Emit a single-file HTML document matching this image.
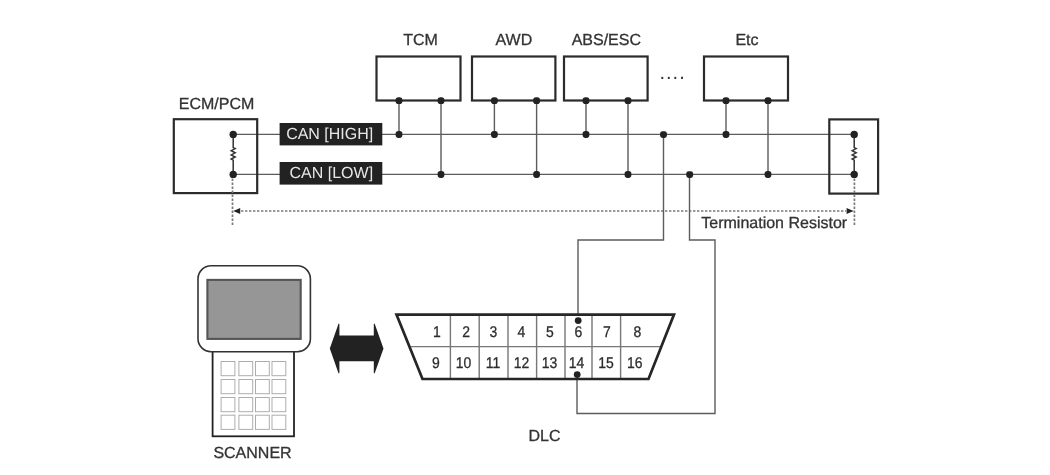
<!DOCTYPE html>
<html lang="en"><head><meta charset="utf-8"><title>CAN communication diagram</title>
<style>html,body{margin:0;padding:0;background:#fff;}body{width:1050px;height:475px;overflow:hidden;}svg{display:block;filter:blur(0.4px);}
text{font-family:"Liberation Sans", Arial, Helvetica, sans-serif;font-size:16px;fill:#333;text-anchor:middle;text-rendering:geometricPrecision;stroke:#333;stroke-width:0.3px;}
.box{fill:none;stroke:#2b2b2b;stroke-width:2.2;}.ln{fill:none;stroke:#5c5c5c;stroke-width:1.4;}.dot{fill:#222;}
.dash{fill:none;stroke:#7a7a7a;stroke-width:1.7;stroke-dasharray:2.4 1.6;}
.key{fill:#fff;stroke:#adadad;stroke-width:1;}
.num{font-size:15.5px;fill:#2b2b2b;}.wt{fill:#e6e6e6;stroke:none;}
</style></head><body>
<svg width="1050" height="475" viewBox="0 0 1050 475">
<rect x="0" y="0" width="1050" height="475" fill="#fff"/>
<path class="ln" d="M233 134.4 H854 M233 174.4 H854"/>
<path class="ln" d="M399 100.6 V134.4 M441 100.6 V174.4"/>
<rect class="box" x="376.5" y="56.5" width="84.0" height="44"/>
<rect class="dot" x="395.60" y="97.30" width="6.8" height="6.8" rx="2.8"/>
<rect class="dot" x="437.60" y="97.30" width="6.8" height="6.8" rx="2.8"/>
<rect class="dot" x="395.60" y="131.10" width="6.8" height="6.8" rx="2.8"/>
<rect class="dot" x="437.60" y="171.10" width="6.8" height="6.8" rx="2.8"/>
<text transform="translate(420.50 44.9) scale(1 1)">TCM</text>
<path class="ln" d="M494.4 100.6 V134.4 M536.6 100.6 V174.4"/>
<rect class="box" x="472" y="56.5" width="83.39999999999998" height="44"/>
<rect class="dot" x="491.00" y="97.30" width="6.8" height="6.8" rx="2.8"/>
<rect class="dot" x="533.20" y="97.30" width="6.8" height="6.8" rx="2.8"/>
<rect class="dot" x="491.00" y="131.10" width="6.8" height="6.8" rx="2.8"/>
<rect class="dot" x="533.20" y="171.10" width="6.8" height="6.8" rx="2.8"/>
<text transform="translate(513.90 44.9) scale(1 1)">AWD</text>
<path class="ln" d="M586 100.6 V134.4 M628 100.6 V174.4"/>
<rect class="box" x="564" y="56.5" width="83.60000000000002" height="44"/>
<rect class="dot" x="582.60" y="97.30" width="6.8" height="6.8" rx="2.8"/>
<rect class="dot" x="624.60" y="97.30" width="6.8" height="6.8" rx="2.8"/>
<rect class="dot" x="582.60" y="131.10" width="6.8" height="6.8" rx="2.8"/>
<rect class="dot" x="624.60" y="171.10" width="6.8" height="6.8" rx="2.8"/>
<text transform="translate(606.30 44.9) scale(1 1)">ABS/ESC</text>
<path class="ln" d="M726 100.6 V134.4 M768 100.6 V174.4"/>
<rect class="box" x="704" y="56.5" width="84" height="44"/>
<rect class="dot" x="722.60" y="97.30" width="6.8" height="6.8" rx="2.8"/>
<rect class="dot" x="764.60" y="97.30" width="6.8" height="6.8" rx="2.8"/>
<rect class="dot" x="722.60" y="131.10" width="6.8" height="6.8" rx="2.8"/>
<rect class="dot" x="764.60" y="171.10" width="6.8" height="6.8" rx="2.8"/>
<text transform="translate(747.00 44.9) scale(1 1)">Etc</text>
<text x="672.60" y="79.4" style="font-size:20px;letter-spacing:1px;stroke:none">....</text>
<rect class="box" x="173.8" y="119.2" width="83.4" height="73.9"/>
<text transform="translate(216.50 109.3) scale(1 1)">ECM/PCM</text>
<rect class="box" x="829.3" y="119.4" width="48.8" height="74.2"/>
<path class="ln" style="stroke:#333;stroke-width:1.5" d="M233.2 134.4 V147.6 l2 1 l-4 2.1 l4 2.1 l-4 2.1 l4 2.1 l-4 2.1 l2 1 V174.4"/>
<circle class="dot" cx="233.2" cy="134.4" r="3.7"/>
<circle class="dot" cx="233.2" cy="174.4" r="3.7"/>
<path class="ln" style="stroke:#333;stroke-width:1.5" d="M854.2 134.4 V147.6 l2 1 l-4 2.1 l4 2.1 l-4 2.1 l4 2.1 l-4 2.1 l2 1 V174.4"/>
<circle class="dot" cx="854.2" cy="134.4" r="3.7"/>
<circle class="dot" cx="854.2" cy="174.4" r="3.7"/>
<rect x="279.6" y="123" width="102.7" height="22.4" fill="#222"/>
<rect x="279.6" y="162" width="102.7" height="22.6" fill="#222"/>
<text transform="translate(329.70 139.0) scale(1 1)" class="wt">CAN [HIGH]</text>
<text transform="translate(331.30 178.0) scale(1 1)" class="wt">CAN [LOW]</text>
<path class="dash" d="M232.5 178.5 V226 M854.4 178.5 V226 M241 211 H846"/>
<path class="dot" d="M233.2 211 L240.2 207.9 V214.1 Z M853.6 211 L846.6 207.9 V214.1 Z"/>
<text transform="translate(774.20 228.3) scale(1 1)">Termination Resistor</text>
<path class="ln" d="M663.5 134.4 V240 H578 V320"/>
<path class="ln" d="M689.5 174.4 V240 H715 V413.5 H577 V375"/>
<rect class="dot" x="660.1" y="131.2" width="6.8" height="6.8" rx="2.4"/>
<rect class="dot" x="686.3" y="171.2" width="6.8" height="6.8" rx="2.4"/>
<path d="M396.5 314.6 H674 L648.5 379 H422.5 Z" fill="#fff" stroke="none"/>
<path class="ln" style="stroke:#777" d="M411 346.6 H660 M450.4 315 V379 M479.2 315 V379 M508 315 V379 M536.6 315 V379 M565 315 V379 M592 315 V379 M620.6 315 V379"/>
<path d="M396.5 314.6 H674 L648.5 379 H422.5 Z" fill="none" stroke="#262626" stroke-width="2.7" stroke-linejoin="miter"/>
<text class="num" transform="translate(436.90 337) scale(0.9 1)">1</text>
<text class="num" transform="translate(436.00 368) scale(0.9 1)">9</text>
<text class="num" transform="translate(466.10 337) scale(0.9 1)">2</text>
<text class="num" transform="translate(463.60 368) scale(0.9 1)">10</text>
<text class="num" transform="translate(493.40 337) scale(0.9 1)">3</text>
<text class="num" transform="translate(493.10 368) scale(0.9 1)">11</text>
<text class="num" transform="translate(521.50 337) scale(0.9 1)">4</text>
<text class="num" transform="translate(521.40 368) scale(0.9 1)">12</text>
<text class="num" transform="translate(550.00 337) scale(0.9 1)">5</text>
<text class="num" transform="translate(549.40 368) scale(0.9 1)">13</text>
<text class="num" transform="translate(578.40 337) scale(0.9 1)">6</text>
<text class="num" transform="translate(576.60 368) scale(0.9 1)">14</text>
<text class="num" transform="translate(607.00 337) scale(0.9 1)">7</text>
<text class="num" transform="translate(606.00 368) scale(0.9 1)">15</text>
<text class="num" transform="translate(637.30 337) scale(0.9 1)">8</text>
<text class="num" transform="translate(634.80 368) scale(0.9 1)">16</text>
<circle class="dot" cx="578.2" cy="320.6" r="3.4"/>
<circle class="dot" cx="577.2" cy="374.6" r="3.4"/>
<text transform="translate(544.50 441.3) scale(1 1)">DLC</text>
<rect x="212.6" y="345" width="81.4" height="91.3" fill="#fff" stroke="#222" stroke-width="1.8"/>
<rect x="198" y="265.8" width="112.4" height="85.9" rx="13" ry="13" fill="#fff" stroke="#333" stroke-width="1.6"/>
<rect x="207.4" y="279.9" width="93.3" height="59" fill="#969696" stroke="#555" stroke-width="2.1"/>
<rect class="key" x="221.1" y="361.5" width="13.8" height="14.2"/>
<rect class="key" x="238.9" y="361.5" width="13.8" height="14.2"/>
<rect class="key" x="255.5" y="361.5" width="13.8" height="14.2"/>
<rect class="key" x="272.0" y="361.5" width="13.8" height="14.2"/>
<rect class="key" x="221.1" y="379.5" width="13.8" height="14.2"/>
<rect class="key" x="238.9" y="379.5" width="13.8" height="14.2"/>
<rect class="key" x="255.5" y="379.5" width="13.8" height="14.2"/>
<rect class="key" x="272.0" y="379.5" width="13.8" height="14.2"/>
<rect class="key" x="221.1" y="397.5" width="13.8" height="14.2"/>
<rect class="key" x="238.9" y="397.5" width="13.8" height="14.2"/>
<rect class="key" x="255.5" y="397.5" width="13.8" height="14.2"/>
<rect class="key" x="272.0" y="397.5" width="13.8" height="14.2"/>
<rect class="key" x="221.1" y="415.2" width="13.8" height="14.2"/>
<rect class="key" x="238.9" y="415.2" width="13.8" height="14.2"/>
<rect class="key" x="255.5" y="415.2" width="13.8" height="14.2"/>
<rect class="key" x="272.0" y="415.2" width="13.8" height="14.2"/>
<text transform="translate(252.50 458.3) scale(1 1)">SCANNER</text>
<path class="dot" d="M329.8 348.4 L338.6 323.4 L339.4 324 V335.6 H373.8 V324 L374.6 323.4 L383.5 348.4 L374.6 373.6 L373.8 373 V361.3 H339.4 V373 L338.6 373.6 Z"/>
</svg></body></html>
